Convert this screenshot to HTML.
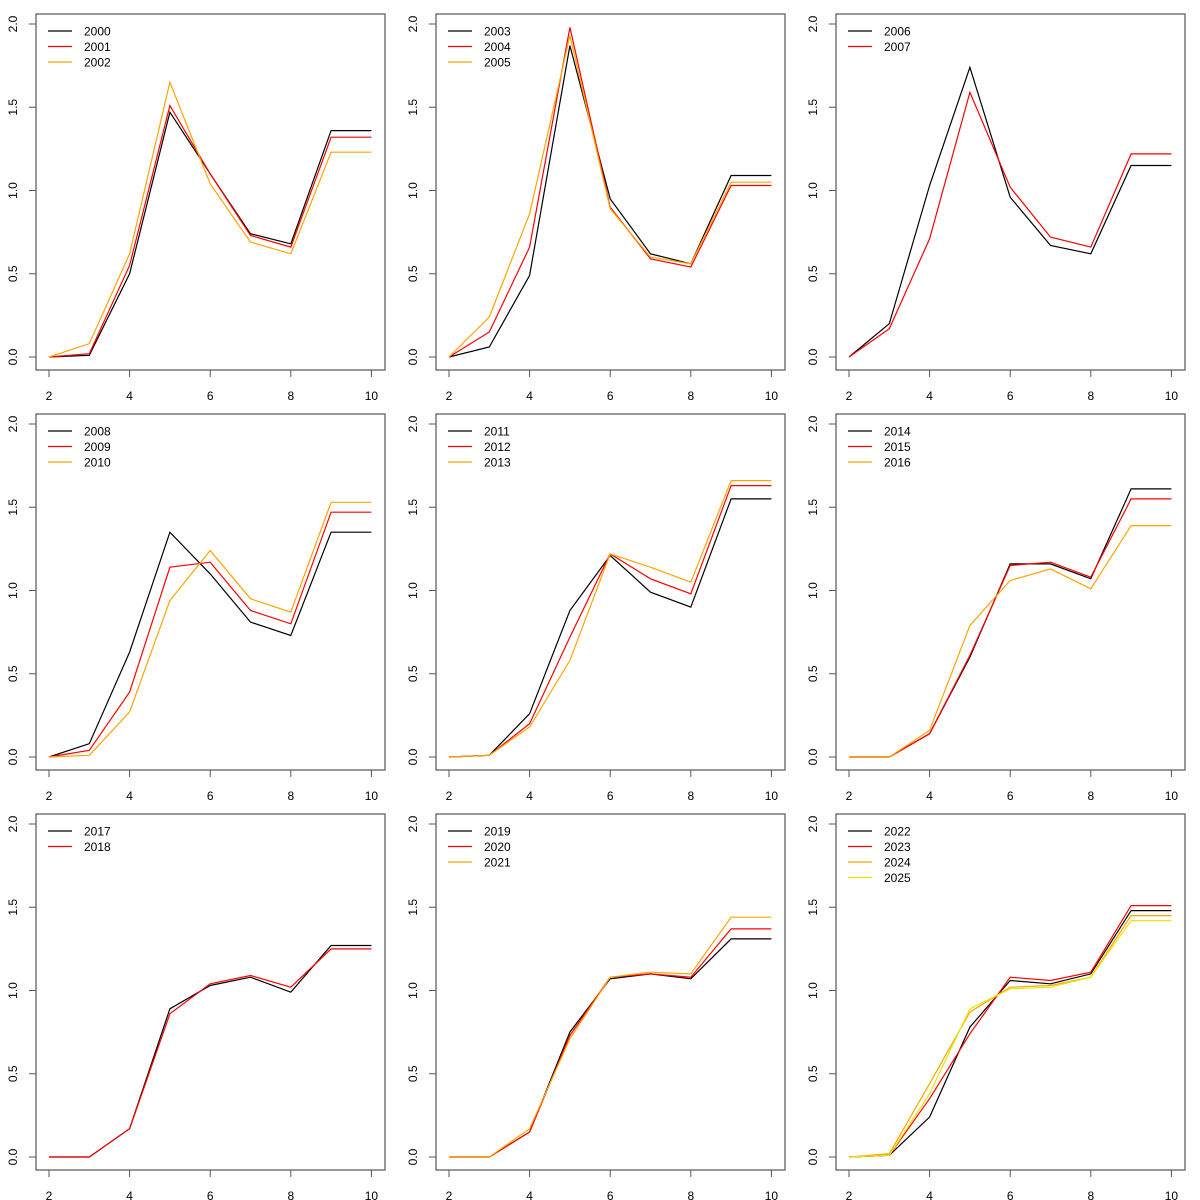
<!DOCTYPE html>
<html><head><meta charset="utf-8"><style>
html,body{margin:0;padding:0;background:#fff}
svg{display:block;font-family:"Liberation Sans",Arial,sans-serif}
</style></head><body>
<svg id="chart" width="1200" height="1200" viewBox="0 0 1200 1200"></svg>
<script>
const xCats = [2,3,4,5,6,7,8,9,10];
const xTicks = [2,4,6,8,10];
const yTicks = [0,0.5,1,1.5,2];
const yTickLabels = ["0.0","0.5","1.0","1.5","2.0"];
const colors = ["#000000","#ff0000","#ffa500","#e6e600"];
const panelYears = [
  ["2000","2001","2002"],["2003","2004","2005"],["2006","2007"],
  ["2008","2009","2010"],["2011","2012","2013"],["2014","2015","2016"],
  ["2017","2018"],["2019","2020","2021"],["2022","2023","2024","2025"]
];
const s2000=[0,0.01,0.5,1.47,1.1,0.74,0.68,1.36,1.36];
const s2001=[0,0.02,0.55,1.51,1.1,0.73,0.66,1.32,1.32];
const s2002=[0,0.08,0.62,1.65,1.04,0.69,0.62,1.23,1.23];
const s2003=[0,0.06,0.49,1.87,0.95,0.62,0.56,1.09,1.09];
const s2004=[0,0.15,0.66,1.98,0.9,0.59,0.54,1.03,1.03];
const s2005=[0,0.24,0.86,1.93,0.89,0.6,0.56,1.05,1.05];
const s2006=[0,0.2,1.03,1.74,0.96,0.67,0.62,1.15,1.15];
const s2007=[0,0.17,0.71,1.59,1.02,0.72,0.66,1.22,1.22];
const s2008=[0,0.08,0.63,1.35,1.1,0.81,0.73,1.35,1.35];
const s2009=[0,0.04,0.39,1.14,1.17,0.88,0.8,1.47,1.47];
const s2010=[0,0.01,0.27,0.94,1.24,0.95,0.87,1.53,1.53];
const s2011=[0,0.01,0.26,0.88,1.21,0.99,0.9,1.55,1.55];
const s2012=[0,0.01,0.2,0.72,1.22,1.07,0.98,1.63,1.63];
const s2013=[0,0.01,0.18,0.58,1.22,1.14,1.05,1.66,1.66];
const s2014=[0,0,0.14,0.6,1.16,1.16,1.07,1.61,1.61];
const s2015=[0,0,0.14,0.61,1.15,1.17,1.08,1.55,1.55];
const s2016=[0,0,0.16,0.79,1.06,1.13,1.01,1.39,1.39];
const s2017=[0,0,0.17,0.89,1.03,1.08,0.99,1.27,1.27];
const s2018=[0,0,0.17,0.86,1.04,1.09,1.02,1.25,1.25];
const s2019=[0,0,0.15,0.75,1.07,1.1,1.07,1.31,1.31];
const s2020=[0,0,0.15,0.73,1.08,1.1,1.08,1.37,1.37];
const s2021=[0,0,0.17,0.71,1.08,1.11,1.1,1.44,1.44];
const s2022=[0,0.01,0.24,0.78,1.06,1.04,1.1,1.48,1.48];
const s2023=[0,0.01,0.35,0.74,1.08,1.06,1.11,1.51,1.51];
const s2024=[0,0.02,0.44,0.87,1.02,1.03,1.08,1.45,1.45];
const s2025=[0,0.01,0.38,0.89,1.01,1.02,1.08,1.42,1.42];
const seriesByYear={"2000":s2000,"2001":s2001,"2002":s2002,"2003":s2003,"2004":s2004,"2005":s2005,
"2006":s2006,"2007":s2007,"2008":s2008,"2009":s2009,"2010":s2010,"2011":s2011,"2012":s2012,"2013":s2013,
"2014":s2014,"2015":s2015,"2016":s2016,"2017":s2017,"2018":s2018,"2019":s2019,"2020":s2020,"2021":s2021,
"2022":s2022,"2023":s2023,"2024":s2024,"2025":s2025};

const NS="http://www.w3.org/2000/svg";
const svg=document.getElementById('chart');
function mk(tag,attrs,parent){const e=document.createElementNS(NS,tag);for(const k in attrs)e.setAttribute(k,attrs[k]);(parent||svg).appendChild(e);return e;}

panelYears.forEach((years,p)=>{
  const ox=(p%3)*400, oy=Math.floor(p/3)*400;
  const g=mk('g',{});
  
  
  const xs=v=>ox+49+(v-2)*40.3;
  const ys=v=>oy+357-v*166.5;
  const box=mk('rect',{x:ox+36,y:oy+14,width:349,height:356,fill:'none',stroke:'#333','stroke-width':1},g);
  
  
  yTicks.forEach((t,i)=>{
    const y=ys(t);
    const tk=mk('line',{x1:ox+29,x2:ox+36,y1:y,y2:y,stroke:'#555'},g);
    
    
    const tx=mk('text',{x:0,y:0,transform:`translate(${ox+17},${y}) rotate(-90)`,'text-anchor':'middle','font-size':12,fill:'#000'},g);
    tx.textContent=yTickLabels[i];
    
    
  });
  xTicks.forEach(t=>{
    const x=xs(t);
    const tk=mk('line',{x1:x,x2:x,y1:oy+370,y2:oy+377,stroke:'#555'},g);
    
    
    const tx=mk('text',{x:x,y:oy+400,'text-anchor':'middle','font-size':12,fill:'#000'},g);
    tx.textContent=String(t);
    
    
  });
  years.forEach((yr,i)=>{
    const vals=seriesByYear[yr];
    const pts=vals.map((v,j)=>xs(xCats[j]).toFixed(1)+','+ys(v).toFixed(1)).join(' ');
    const pl=mk('polyline',{points:pts,fill:'none',stroke:colors[i],'stroke-width':1.2},g);
    
    
    const ly=oy+31+i*15.5;
    const ll=mk('line',{x1:ox+48,x2:ox+72,y1:ly,y2:ly,stroke:colors[i],'stroke-width':1.2},g);
    
    
    const lt=mk('text',{x:ox+84,y:ly+4.5,'font-size':12,fill:'#000'},g);
    lt.textContent=yr;
    
    
  });
});
</script>
</body></html>
